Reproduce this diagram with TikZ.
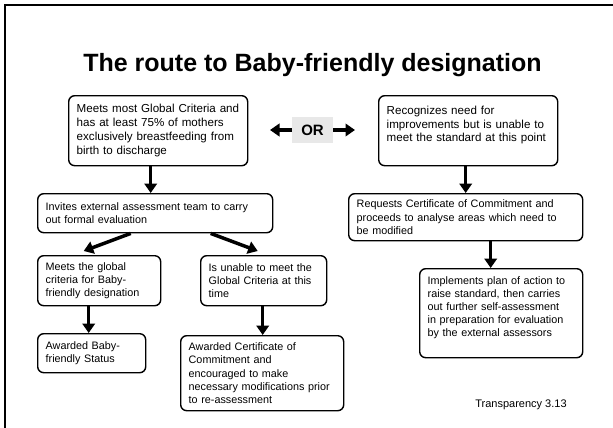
\documentclass[tikz,border=0pt]{standalone}
\usepackage{fontspec}
\setmainfont{Liberation Sans}
\usetikzlibrary{arrows.meta}

\begin{document}
\begin{tikzpicture}[x=1pt, y=-1pt,
        box/.style = {draw, line width=1.4pt, rounded corners=6pt, anchor=north west,
            align=left, inner xsep=8pt, inner ysep=4pt, font=\fontsize{10.8}{13.2}\selectfont},
        topbox/.style = {box, font=\fontsize{11.6}{13.8}\selectfont},
        arrow/.style = {line width=3.5pt, -{Triangle[width=12.5pt,length=9.5pt]}}]
                \useasboundingbox (0,0) rectangle (613,428);
                \draw[line width=2.3pt] (613,5) -- (5,5) -- (5,428);

                \node[anchor=base, font=\fontsize{25}{29}\selectfont\bfseries] (title)
                    at (312.5,72) {The route to Baby-friendly designation};

                \node[topbox, text width=163pt, minimum height=70pt] (most)
                    at (68,95) {Meets most Global Criteria and\\has at least 75\% of mothers\\exclusively breastfeeding from\\birth to discharge};
                \node[topbox, text width=163pt, minimum height=70pt] (recog)
                    at (378,95) {Recognizes need for\\improvements but is unable to\\meet the standard at this point\\\mbox{}};
                \node[fill=gray!18, minimum width=41pt, minimum height=26pt, inner sep=0pt,
                    font=\fontsize{15}{18}\selectfont\bfseries] (or) at (312.5,130) {OR};
                \coordinate (orleft) at (270,130);
                \coordinate (orright) at (355,130);

                \node[box, text width=219pt, minimum height=39pt] (invites)
                    at (37,193) {Invites external assessment team to carry\\out formal evaluation};
                \node[box, text width=218pt, minimum height=47pt] (requests)
                    at (348,193) {Requests Certificate of Commitment and\\proceeds to analyse areas which need to\\be modified};
                \node[box, text width=147pt, minimum height=89pt] (implements)
                    at (419,268) {Implements plan of action to\\raise standard, then carries\\out further self-assessment\\in preparation for evaluation\\by the external assessors\\\mbox{}};

                \node[box, text width=107pt, minimum height=50pt] (glob)
                    at (37,255) {Meets the global\\criteria for Baby-\\friendly designation};
                \node[box, text width=110pt, minimum height=50pt] (unable)
                    at (200,255) {Is unable to meet the\\Global Criteria at this\\time};
                \node[box, text width=92pt, minimum height=39pt] (status)
                    at (37,333) {Awarded Baby-\\friendly Status};
                \node[box, text width=147pt, minimum height=75pt] (cert)
                    at (180,335) {Awarded Certificate of\\Commitment and\\encouraged to make\\necessary modifications prior\\to re-assessment};

                \node[font=\fontsize{11}{13}\selectfont] (tnum) at (521,405) {Transparency 3.13};

                \draw[arrow] (or) -- (orleft);
                \draw[arrow] (or) -- (orright);
                \draw[arrow] ([xshift=-7.5pt]most.south) -- ([xshift=-4.5pt]invites.north);
                \draw[arrow] ([xshift=-2.5pt]recog.south) -- (requests.north);
                \draw[arrow] ([xshift=25pt]requests.south) -- ([xshift=-10.5pt]implements.north);
                \draw[arrow] ([xshift=-24.5pt]invites.south) -- ([xshift=-15.5pt,yshift=4pt]glob.north);
                \draw[arrow] ([xshift=55.5pt]invites.south) -- ([xshift=-6pt,yshift=4pt]unable.north);
                \draw[arrow] ([xshift=-10.5pt]glob.south) -- ([xshift=-3pt]status.north);
                \draw[arrow] ([xshift=-1pt]unable.south) -- ([xshift=0.5pt]cert.north);
            \end{tikzpicture}
\end{document}
